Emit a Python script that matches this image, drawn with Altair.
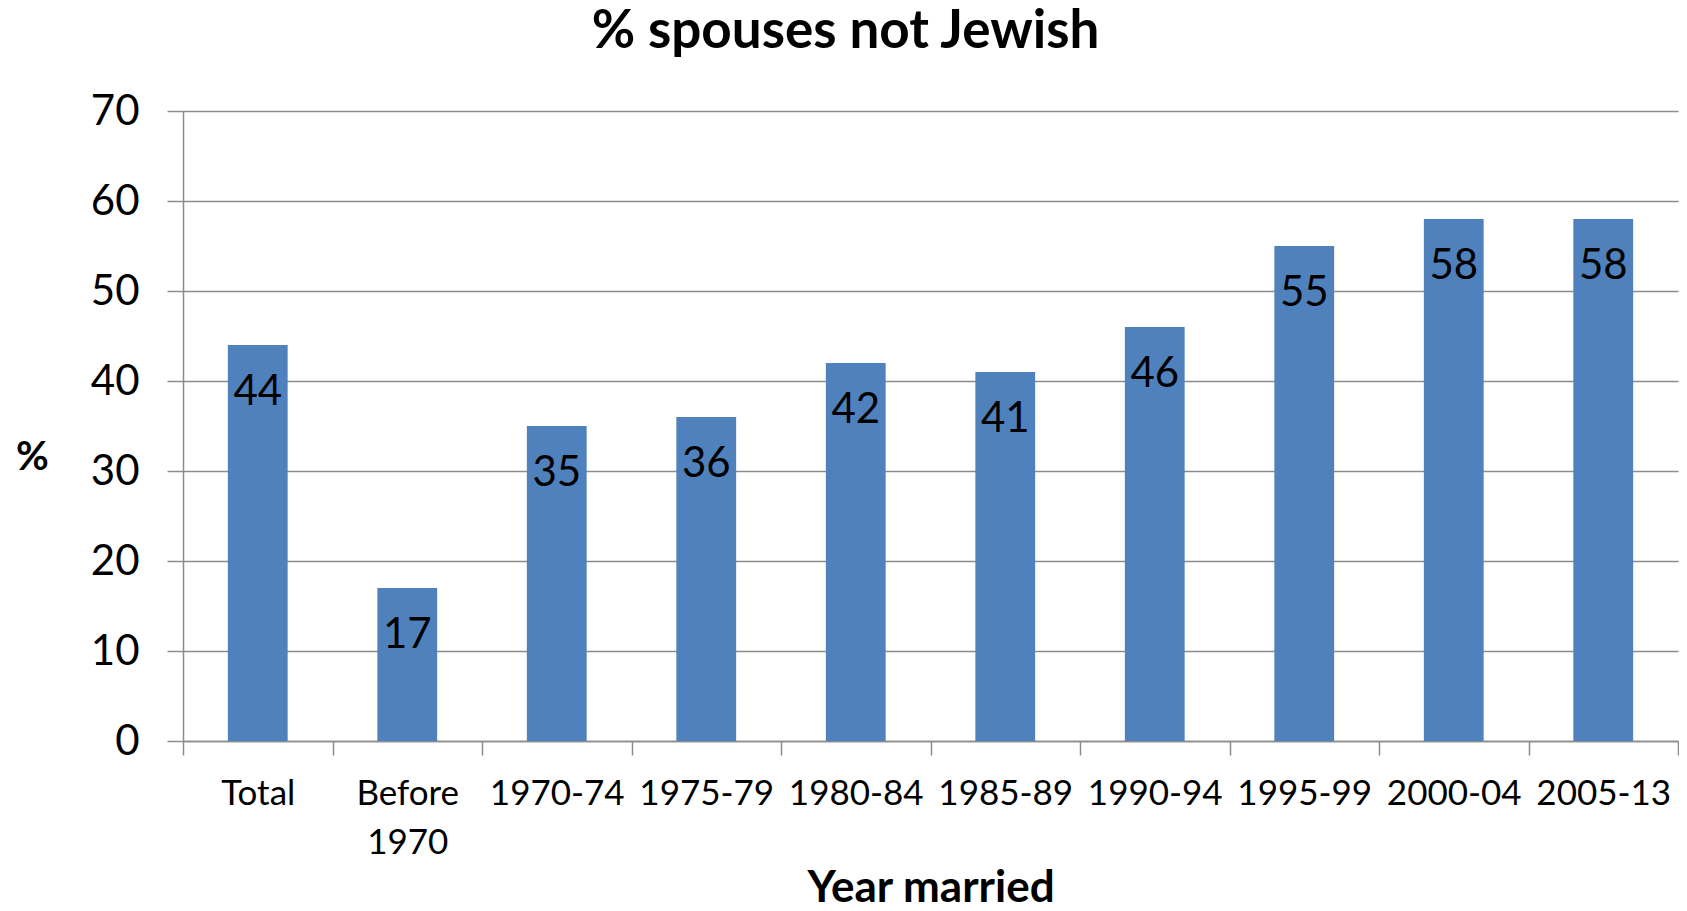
import altair as alt
import pandas as pd

categories = ["Total", "Before 1970", "1970-74", "1975-79", "1980-84",
              "1985-89", "1990-94", "1995-99", "2000-04", "2005-13"]
values = [44, 17, 35, 36, 42, 41, 46, 55, 58, 58]

df = pd.DataFrame({"period": categories, "pct": values})

FONT = "Lato"
GRID = "#8c8c8c"

x = alt.X("period:N", sort=categories,
          scale=alt.Scale(paddingInner=0, paddingOuter=0),
          axis=alt.Axis(title="Year married", labelAngle=0,
                        labelExpr="split(datum.label, ' ')",
                        labelFont=FONT, labelFontSize=35, labelColor="black",
                        labelLineHeight=49, labelPadding=21,
                        titleFont=FONT, titleFontSize=44, titleFontWeight="bold",
                        titleColor="black", titleY=160, titleBaseline="alphabetic",
                        tickBand="extent", ticks=True, tickSize=14,
                        tickColor=GRID, domainColor=GRID, tickWidth=1.5,
                        domainWidth=1.5, grid=False))

y = alt.Y("pct:Q", scale=alt.Scale(domain=[0, 70], nice=False),
          axis=alt.Axis(title="%", titleAngle=0, titleFont=FONT, titleFontSize=40,
                        titleFontWeight="bold", titleColor="black",
                        titleX=-151, titleY=346, titleBaseline="middle",
                        titleAlign="center",
                        values=list(range(0, 71, 10)),
                        labelFont=FONT, labelFontSize=42, labelColor="black",
                        labelPadding=28, tickSize=16, tickColor=GRID, tickWidth=1.5,
                        domainColor=GRID, domainWidth=1.5,
                        grid=True, gridColor=GRID, gridWidth=1.5))

bars = alt.Chart(df).mark_bar(color="#4F81BD", width={"band": 0.4}).encode(x=x, y=y)

labels = alt.Chart(df).mark_text(font=FONT, fontSize=42, color="black",
                                 baseline="middle", dy=47).encode(
    x=alt.X("period:N", sort=categories),
    y=alt.Y("pct:Q"),
    text=alt.Text("pct:Q"))

chart = (bars + labels).properties(
    width=1495, height=630,
    autosize=alt.AutoSizeParams(type="none"),
    padding={"left": 175, "top": 103, "right": 1, "bottom": 162},
    title=alt.TitleParams("% spouses not Jewish", font=FONT, fontSize=53,
                          fontWeight="bold", color="black", anchor="middle",
                          dx=-85, offset=31),
).configure_view(stroke=None)

chart.save("out.html", embed_options={"renderer": "svg", "actions": False})
